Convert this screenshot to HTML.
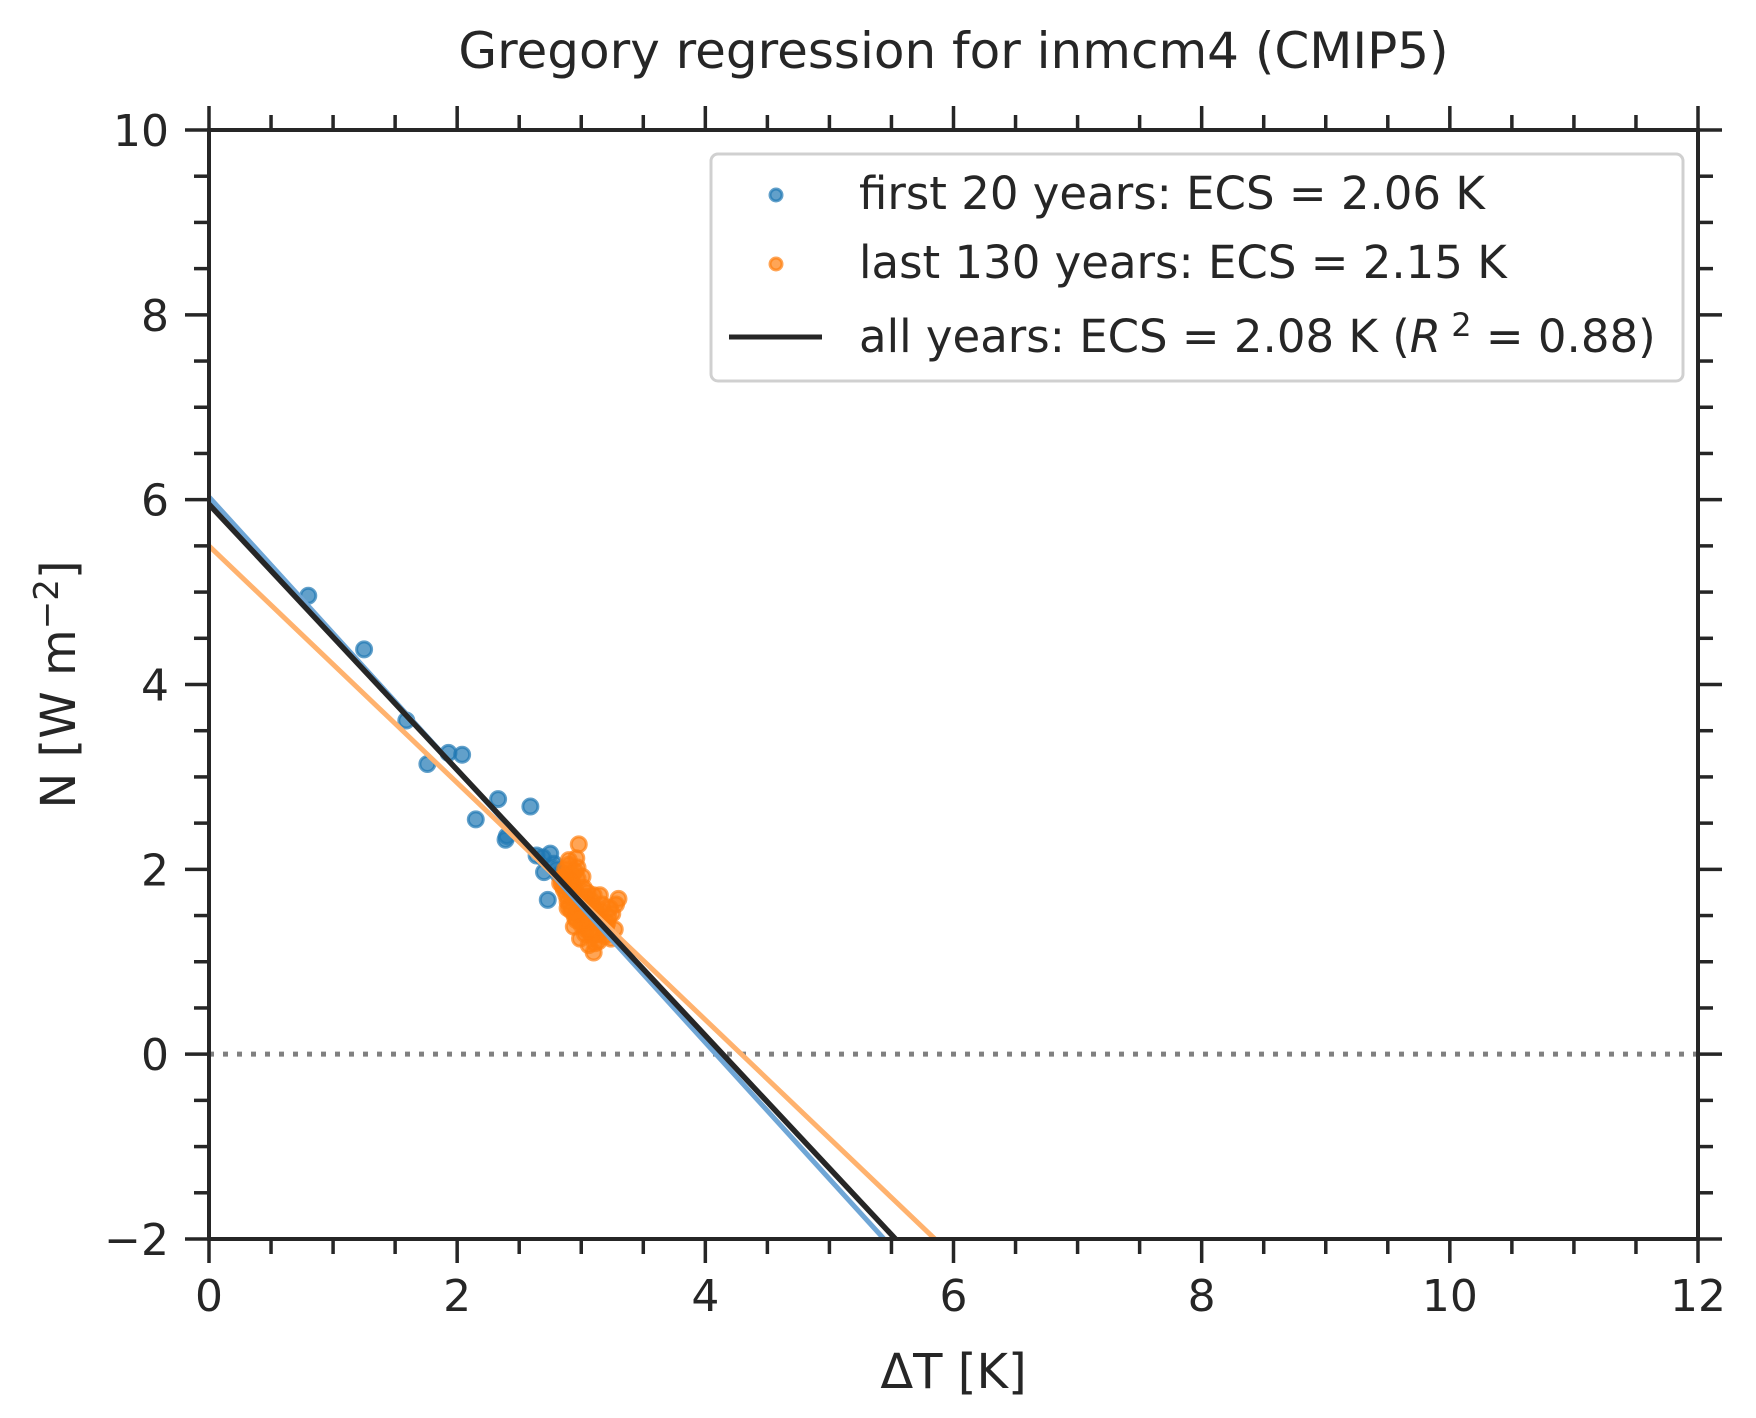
<!DOCTYPE html>
<html><head><meta charset="utf-8">
<style>
html,body{margin:0;padding:0;background:#fff;overflow:hidden;width:1756px;height:1418px;}
svg{display:block;font-family:"DejaVu Sans","Liberation Sans",sans-serif;}
</style></head>
<body>
<svg id="chart" width="1756" height="1418" viewBox="0 0 1756 1418">
</svg>
<script>
const firstX = [0.80,1.25,1.59,1.76,1.93,2.04,2.15,2.33,2.39,2.40,2.59,2.64,2.70,2.73,2.75,2.69,2.78,2.82,2.87,2.80];
const firstY = [4.96,4.38,3.61,3.14,3.26,3.24,2.54,2.76,2.32,2.36,2.68,2.15,1.97,1.67,2.17,2.13,2.06,1.94,1.82,2.00];
const lastX = [2.98,2.96,2.90,2.88,2.92,2.85,2.95,3.00,3.02,2.93,2.87,2.91,2.97,3.05,3.08,3.10,3.12,3.15,3.18,3.20,
2.94,2.99,3.03,3.06,2.89,2.86,2.84,2.83,2.95,3.01,3.04,3.09,3.13,3.16,3.22,3.25,3.28,3.30,3.27,3.24,
2.92,2.96,3.00,3.07,3.11,3.14,3.19,3.21,3.17,3.23,2.90,2.88,2.97,3.02,3.05,3.08,3.03,2.99,2.94,2.91,
3.10,3.13,3.06,3.00,2.98,2.93,2.95,3.01,3.04,3.09,3.12,3.18,3.15,3.07,3.02,2.96,2.89,2.87,2.92,2.85];
const lastY = [2.27,2.12,2.05,1.95,1.88,1.82,1.78,1.70,1.62,1.95,2.00,1.85,1.90,1.60,1.55,1.72,1.50,1.45,1.40,1.38,
1.75,1.68,1.58,1.52,1.65,1.78,1.90,1.85,1.48,1.42,1.35,1.28,1.30,1.55,1.48,1.52,1.62,1.68,1.35,1.25,
1.55,1.45,1.40,1.32,1.20,1.22,1.28,1.42,1.62,1.58,2.10,1.72,2.02,1.80,1.75,1.66,1.30,1.25,1.38,1.60,
1.10,1.45,1.18,1.50,1.62,1.85,1.98,1.92,1.70,1.60,1.55,1.35,1.72,1.45,1.65,1.52,1.58,1.92,1.70,1.88];
const lineNames = ["fit-first-20","fit-last-130","fit-all-years"];
const lineIntercepts = [6.03,5.50,5.95];
const lineSlopes = [-1.476,-1.282,-1.437];
const lineColors = ["#6fa6d6","#ffb26e","#262626"];
const xTicks = [0,2,4,6,8,10,12];
const yTicks = [-2,0,2,4,6,8,10];

const X0=209,X1=1698,Y0=1239,Y1=130;
const sx=v=>X0+(v-0)/12*(X1-X0);
const sy=v=>Y0-(v+2)/12*(Y0-Y1);
const svg=document.getElementById('chart');
const NS='http://www.w3.org/2000/svg';
function mk(tag,attrs,parent){const e=document.createElementNS(NS,tag);for(const k in attrs)e.setAttribute(k,attrs[k]);(parent||svg).appendChild(e);return e;}

const defs=mk('defs',{});
const cp=mk('clipPath',{id:'clip'},defs);mk('rect',{x:X0,y:Y1,width:X1-X0,height:Y0-Y1},cp);
const plot=mk('g',{'clip-path':'url(#clip)'});



const zl=mk('line',{x1:X0,x2:X1,y1:sy(0),y2:sy(0),stroke:'#808080','stroke-width':5,'stroke-dasharray':'5,9'},plot);



firstX.forEach((x,i)=>{const c=mk('circle',{cx:sx(x),cy:sy(firstY[i]),r:7.5,fill:'#1f77b4','fill-opacity':0.7,stroke:'#1f77b4','stroke-opacity':0.7,'stroke-width':3},plot);

});
lastX.forEach((x,i)=>{const c=mk('circle',{cx:sx(x),cy:sy(lastY[i]),r:7.5,fill:'#ff7f0e','fill-opacity':0.7,stroke:'#ff7f0e','stroke-opacity':0.7,'stroke-width':3},plot);

});

lineNames.forEach((n,i)=>{const l=mk('line',{x1:sx(0),y1:sy(lineIntercepts[i]),x2:sx(12),y2:sy(lineIntercepts[i]+lineSlopes[i]*12),stroke:lineColors[i],'stroke-width':i==2?5.5:5},plot);

});

const fr=mk('rect',{x:X0,y:Y1,width:X1-X0,height:Y0-Y1,fill:'none',stroke:'#262626','stroke-width':4});



const tg=mk('g',{stroke:'#262626','stroke-width':3.5});


for(let v=0;v<=12.001;v+=0.5){const major=Math.abs(v%2)<1e-6;const L=major?24:15;const x=sx(v);
mk('line',{x1:x,x2:x,y1:Y0,y2:Y0+L},tg);mk('line',{x1:x,x2:x,y1:Y1,y2:Y1-L},tg);}
for(let v=-2;v<=10.001;v+=0.5){const major=Math.abs((v+2)%2)<1e-6;const L=major?24:15;const y=sy(v);
mk('line',{x1:X0,x2:X0-L,y1:y,y2:y},tg);mk('line',{x1:X1,x2:X1+L,y1:y,y2:y},tg);}

xTicks.forEach(v=>{const t=mk('text',{x:sx(v),y:Y0+72,'text-anchor':'middle','font-size':44,fill:'#262626'});t.textContent=v;

});
yTicks.forEach(v=>{const t=mk('text',{x:X0-40,y:sy(v)+16,'text-anchor':'end','font-size':44,fill:'#262626'});t.textContent=v<0?'\u2212'+(-v):v;

});

const title=mk('text',{x:(X0+X1)/2,y:68,'text-anchor':'middle','font-size':50,fill:'#262626'});title.textContent='Gregory regression for inmcm4 (CMIP5)';


const xl=mk('text',{x:(X0+X1)/2,y:1388,'text-anchor':'middle','font-size':48,fill:'#262626'});xl.textContent='\u0394T [K]';


const yl=mk('text',{x:0,y:0,'text-anchor':'middle','font-size':48,fill:'#262626',transform:'translate(75,'+((Y0+Y1)/2)+') rotate(-90)'});
yl.innerHTML='N [W m<tspan dy="-17" font-size="34">\u22122</tspan><tspan dy="17">]</tspan>';



const lg=mk('g',{});


mk('rect',{x:711,y:154,width:972,height:227,rx:7,fill:'#fff','fill-opacity':0.85,stroke:'#d0d0d0','stroke-width':3},lg);
const m1=mk('circle',{cx:776,cy:195,r:6,fill:'#1f77b4','fill-opacity':0.7,stroke:'#1f77b4','stroke-opacity':0.7,'stroke-width':3},lg);


const m2=mk('circle',{cx:776,cy:264,r:6,fill:'#ff7f0e','fill-opacity':0.7,stroke:'#ff7f0e','stroke-opacity':0.7,'stroke-width':3},lg);


const m3=mk('line',{x1:729,x2:822,y1:337,y2:337,stroke:'#262626','stroke-width':5},lg);


const l1=mk('text',{x:859,y:209,'font-size':45,fill:'#262626'},lg);l1.textContent='first 20 years: ECS = 2.06 K';


const l2=mk('text',{x:859,y:278,'font-size':45,fill:'#262626'},lg);l2.textContent='last 130 years: ECS = 2.15 K';


const l3=mk('text',{x:859,y:352,'font-size':45,fill:'#262626'},lg);
l3.innerHTML='all years: ECS = 2.08 K (<tspan font-style="italic">R</tspan><tspan dy="-16" font-size="32"> 2</tspan><tspan dy="16"> = 0.88)</tspan>';


</script>
</body></html>
